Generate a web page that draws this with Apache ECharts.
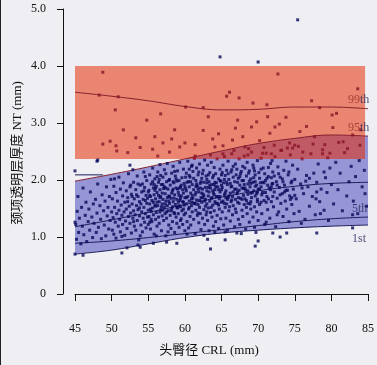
<!DOCTYPE html>
<html><head><meta charset="utf-8">
<script src="https://cdn.jsdelivr.net/npm/echarts@6/dist/echarts.min.js"></script>
<style>html,body{margin:0;padding:0;background:#ededf3}#c{width:377px;height:365px}</style>
</head><body><div id="c"></div>
<script>
// ---- data ----
const crl = [45, 50, 55, 60, 65, 70, 75, 80, 85];
const p99 = [3.54, 3.47, 3.39, 3.29, 3.23, 3.24, 3.28, 3.28, 3.25];
const p95 = [1.98, 2.10, 2.23, 2.37, 2.51, 2.64, 2.73, 2.79, 2.77];
const p50 = [1.18, 1.30, 1.43, 1.57, 1.70, 1.81, 1.89, 1.94, 1.96];
const p5  = [0.89, 0.93, 0.99, 1.06, 1.13, 1.20, 1.27, 1.32, 1.35];
const p1  = [0.70, 0.77, 0.88, 0.99, 1.07, 1.12, 1.16, 1.19, 1.21];
const flatSegX = [45, 48.8];
const flatSegY = [2.09, 2.09];
const rectX = [45, 84.6];
const rectY = [2.37, 4.0];
const xTicks = [45, 50, 55, 60, 65, 70, 75, 80, 85];
const yTicks = ['0', '1.0', '2.0', '3.0', '4.0', '5.0'];
const pctNames = ['99th', '95th', '5th', '1st'];
const xTitle = '头臀径 CRL (mm)';
const yTitle = '颈项透明层厚度 NT (mm)';

// scatter (x, y pairs, flat)
const cloud1 = [45.1,1.22,45.2,0.96,45.3,1.45,45.4,1.71,45.5,1.08,45.6,1.33,45.8,0.88,45.9,1.52,46.0,1.19,46.1,1.86,46.2,1.04,46.4,1.38,46.5,1.61,46.6,0.92,46.8,1.27,46.9,1.49,47.0,1.12,47.1,1.79,47.3,1.35,47.4,0.99,47.5,1.58,47.6,1.24,47.8,1.66,47.9,1.08,48.0,1.42,48.1,1.93,48.2,1.17,48.4,1.55,48.5,1.31,48.6,0.97,48.7,1.74,48.9,1.46,49.0,1.21,49.1,1.63,49.2,1.02,49.3,1.88,49.4,1.37,49.5,1.52,49.6,1.14,49.7,1.71,49.8,1.29,49.9,2.01,50.0,1.44,
50.1,1.12,50.1,1.67,50.2,1.34,50.3,1.89,50.3,1.05,50.4,1.52,50.5,1.26,50.6,1.78,50.6,0.98,50.7,1.41,50.8,1.63,50.9,1.19,51.0,2.05,51.0,1.47,51.1,1.31,51.2,1.84,51.2,1.09,51.3,1.56,51.4,1.38,51.5,1.72,51.5,1.22,51.6,1.95,51.7,1.44,51.8,1.03,51.8,1.61,51.9,1.28,52.0,1.81,52.0,1.49,52.1,1.15,52.2,1.69,52.3,1.36,52.3,2.11,52.4,1.54,52.5,1.24,52.5,1.88,52.6,1.42,52.7,1.07,52.7,1.75,52.8,1.58,52.9,1.33,53.0,1.96,53.0,1.46,53.1,1.19,53.1,1.67,53.2,1.39,53.3,1.83,53.3,1.12,53.4,1.55,53.5,2.07,53.5,1.29,53.6,1.71,53.6,1.48,53.7,0.95,53.8,1.62,53.8,1.37,53.9,1.91,54.0,1.21,54.0,1.58,54.1,1.44,54.1,1.79,54.2,1.09,54.3,1.66,54.3,1.33,54.4,2.14,54.4,1.52,54.5,1.26,54.5,1.87,54.6,1.41,54.7,1.73,54.7,1.16,54.8,1.59,54.8,1.99,54.9,1.35,54.9,1.68,55.0,1.47,55.0,1.22,50.4,2.02,51.4,1.01,52.9,2.18,53.9,1.02,54.6,2.06];
const cloud2 = [55.1,1.82,55.1,1.36,55.2,1.58,55.2,2.09,55.3,1.14,55.3,1.71,55.4,1.45,55.4,1.93,55.5,1.27,55.5,1.64,55.6,2.21,55.6,1.51,55.7,1.39,55.7,1.86,55.8,1.05,55.8,1.74,55.9,1.56,55.9,2.02,56.0,1.31,56.0,1.67,56.1,1.89,56.1,1.43,56.2,1.19,56.2,1.78,56.3,2.14,56.3,1.55,56.4,1.35,56.4,1.96,56.5,1.62,56.5,1.24,56.6,1.83,56.6,2.27,56.7,1.48,56.7,1.71,56.8,1.11,56.8,1.92,56.9,1.58,56.9,1.37,57.0,2.05,57.0,1.66,57.1,1.29,57.1,1.85,57.2,1.52,57.2,2.18,57.3,1.41,57.3,1.76,57.4,1.02,57.4,1.63,57.5,1.97,57.5,1.33,57.6,1.55,57.6,2.29,57.7,1.84,57.7,1.46,57.8,1.21,57.8,1.72,57.9,2.01,57.9,1.59,58.0,1.38,58.0,1.91,58.1,1.68,58.1,1.15,58.2,2.12,58.2,1.49,58.3,1.81,58.3,1.27,58.4,1.62,58.4,2.24,58.5,1.43,58.5,1.95,58.6,1.74,58.6,1.08,58.7,1.57,58.7,2.07,58.8,1.35,58.8,1.86,58.9,1.66,58.9,1.24,59.0,2.16,59.0,1.51,59.1,1.78,59.1,1.41,59.2,1.99,59.2,1.17,59.3,1.64,59.3,2.31,59.4,1.53,59.4,1.88,59.5,1.32,59.5,1.72,59.6,2.04,59.6,1.46,59.7,1.83,59.7,1.22,59.8,1.61,59.8,2.19,59.9,1.39,59.9,1.94,60.0,1.69,60.0,1.11,
55.2,1.26,55.7,1.61,56.1,1.02,56.7,2.08,57.2,1.88,57.7,1.09,58.3,1.53,58.9,1.98,59.4,1.29,59.8,1.77,56.4,1.73,57.5,1.44,58.6,1.41,59.1,1.61];
const cloud3 = [60.1,1.85,60.1,1.42,60.2,2.12,60.2,1.58,60.3,1.27,60.3,1.96,60.4,1.71,60.4,2.33,60.5,1.49,60.5,1.16,60.6,1.88,60.6,1.63,60.7,2.05,60.7,1.36,60.8,1.77,60.8,1.21,60.9,2.24,60.9,1.55,61.0,1.92,61.0,1.44,61.1,1.68,61.1,2.15,61.2,1.31,61.2,1.83,61.3,1.59,61.3,2.38,61.4,1.06,61.4,1.74,61.5,1.99,61.5,1.47,61.6,2.21,61.6,1.65,61.7,1.38,61.7,1.89,61.8,1.57,61.8,2.09,61.9,1.25,61.9,1.79,62.0,1.52,62.0,2.28,62.1,1.94,62.1,1.41,62.2,1.69,62.2,1.13,62.3,2.03,62.3,1.61,62.4,1.84,62.4,1.33,62.5,2.17,62.5,1.75,62.6,1.48,62.6,1.96,62.7,1.22,62.7,2.35,62.8,1.66,62.8,1.87,62.9,1.39,62.9,2.07,63.0,1.58,63.0,1.81,63.1,1.29,63.1,2.26,63.2,1.72,63.2,1.51,63.3,1.97,63.3,1.11,63.4,1.63,63.4,2.13,63.5,1.43,63.5,1.86,63.6,2.31,63.6,1.68,63.7,1.35,63.7,1.92,63.8,1.56,63.8,2.04,63.9,1.19,63.9,1.77,64.0,2.22,64.0,1.46,64.1,1.83,64.1,1.62,64.2,1.27,64.2,2.11,64.3,1.71,64.3,1.95,64.4,1.38,64.4,2.37,64.5,1.59,64.5,1.88,64.6,1.15,64.6,2.02,64.7,1.67,64.7,1.49,64.8,2.19,64.8,1.79,64.9,1.32,64.9,1.98,65.0,1.61,65.0,2.09,
60.3,1.05,61.4,2.42,62.6,1.03,63.5,2.44,64.1,1.08,61.0,1.73,62.0,1.64,63.0,2.01,64.0,1.74,60.6,2.19];
const cloud4 = [65.1,1.44,65.1,1.87,65.2,2.26,65.2,1.63,65.3,1.21,65.3,1.95,65.4,1.74,65.4,2.41,65.5,1.52,65.5,2.08,65.6,1.33,65.6,1.81,65.7,2.17,65.7,1.58,65.8,1.12,65.8,1.92,65.9,1.69,65.9,2.33,66.0,1.46,66.0,2.01,66.2,1.77,66.2,1.28,66.3,2.14,66.3,1.62,66.4,1.89,66.4,2.46,66.5,1.39,66.5,1.71,66.6,2.05,66.6,1.55,66.8,1.97,66.8,1.18,66.9,2.28,66.9,1.66,67.0,1.84,67.0,1.43,67.1,2.19,67.1,1.76,67.3,1.31,67.3,2.03,67.4,1.59,67.4,2.37,67.5,1.91,67.5,1.22,67.6,1.68,67.6,2.11,67.8,1.47,67.8,1.86,67.9,2.24,67.9,1.36,68.0,1.73,68.0,1.99,68.1,1.57,68.1,2.42,68.3,1.14,68.3,1.82,68.4,2.07,68.4,1.64,68.5,1.41,68.5,2.31,68.6,1.93,68.6,1.75,68.8,1.26,68.8,2.16,68.9,1.58,68.9,1.88,69.0,2.02,69.0,1.49,69.1,1.69,69.1,2.49,69.3,1.35,69.3,1.96,69.4,1.81,69.4,2.21,69.5,1.53,69.5,1.17,69.6,2.09,69.6,1.72,69.8,1.44,69.8,1.91,69.9,2.34,69.9,1.62,70.0,1.84,70.0,1.29,
65.5,1.09,66.7,2.52,67.7,1.06,68.7,2.55,69.7,1.08,66.1,1.53,67.2,1.96,68.2,1.67,69.2,1.78];
const cloud5 = [70.1,2.13,70.2,1.57,70.3,1.95,70.4,2.38,70.5,1.41,70.6,1.78,70.7,2.21,70.8,1.64,70.9,1.22,71.0,1.99,71.1,2.47,71.2,1.71,71.3,1.48,71.4,2.06,71.5,1.86,71.6,1.33,71.7,2.29,71.8,1.62,71.9,1.93,72.0,2.14,72.1,1.53,72.2,1.79,72.3,2.41,72.4,1.18,72.5,1.97,72.6,1.68,72.7,2.23,72.8,1.44,72.9,1.87,73.0,2.05,73.1,1.59,73.2,2.52,73.3,1.76,73.4,1.36,73.5,2.17,73.6,1.91,73.7,1.63,73.8,2.33,73.9,1.49,74.0,1.82,74.1,2.09,74.2,1.27,74.3,1.72,74.4,2.44,74.5,1.95,74.6,1.57,74.7,2.26,74.8,1.84,74.9,1.41,75.0,2.01,70.4,1.88,71.1,1.26,71.9,2.34,72.6,1.39,73.3,2.02,74.0,2.56,74.6,1.69,70.8,2.57,72.2,2.61,
75.2,1.67,75.4,2.19,75.6,1.45,75.8,1.93,76.0,2.37,76.2,1.76,76.4,1.31,76.6,2.08,76.8,1.88,77.0,1.54,77.2,2.46,77.4,1.71,77.6,2.12,77.8,1.39,78.0,1.96,78.2,2.28,78.4,1.62,78.6,1.84,78.8,2.53,79.0,1.47,79.2,2.04,79.4,1.78,79.6,1.29,79.8,2.21,80.0,1.92,75.5,2.59,76.5,1.98,77.5,2.63,78.5,1.41,79.5,2.39,75.9,1.24,77.9,1.67,
80.3,1.58,80.6,2.31,80.9,1.83,81.2,2.12,81.5,1.46,81.8,2.48,82.1,1.72,82.4,1.97,82.7,2.24,83.0,1.63,83.3,2.06,83.6,1.41,83.9,2.61,84.2,1.88,84.5,2.17,84.8,1.54,81.0,2.66,82.9,1.39,83.8,2.34,84.6,1.76];
const cloudCore = [55.3,1.49,55.9,1.82,56.2,1.61,56.6,1.44,57.0,1.92,57.3,1.58,57.8,1.99,58.1,1.46,58.5,1.68,58.8,2.02,59.2,1.73,59.5,1.91,59.9,1.56,60.2,1.81,60.5,1.97,60.9,1.67,61.2,2.03,61.5,1.78,61.8,1.42,62.1,1.86,62.4,2.11,62.7,1.63,63.0,1.95,63.3,1.79,63.6,1.52,63.9,2.08,64.2,1.88,64.5,1.71,64.8,1.99,65.1,2.13,65.4,1.59,65.7,1.96,66.0,1.72,66.3,1.88,66.6,2.24,66.9,1.49,67.2,1.79,67.5,2.06,67.8,1.66,68.1,1.92,68.4,1.52,68.7,2.12,69.0,1.77,69.3,2.26,69.6,1.89,69.9,1.66,70.2,2.03,70.5,1.74,70.8,1.95,71.1,1.61,71.4,2.22,71.7,1.83,72.0,1.71,
55.6,1.97,56.0,1.54,56.5,2.01,56.9,1.77,57.4,1.86,57.9,1.71,58.4,1.84,58.9,1.52,59.3,1.86,59.7,1.62,60.1,2.05,60.6,1.52,61.0,1.61,61.5,1.89,61.9,2.14,62.3,1.77,62.8,1.54,63.2,2.09,63.7,1.69,64.1,1.96,64.6,1.56,65.0,1.83,65.5,1.77,65.9,2.11,66.4,1.65,66.8,1.84,67.3,1.69,67.7,2.15,68.2,1.86,68.6,1.59,69.0,1.94,69.5,2.16,69.9,1.79,70.4,1.61,70.9,2.11,71.3,1.91,71.8,2.04];
const cloudCore2 = [52.2,1.62,52.6,1.91,53.0,1.27,53.4,1.74,53.8,1.51,54.2,1.93,54.6,1.64,55.0,1.79,55.4,1.31,55.8,1.92,56.2,2.06,56.6,1.69,57.0,1.47,57.4,2.11,57.8,1.63,58.2,1.77,58.6,2.15,59.0,1.84,59.4,1.68,59.8,1.49,60.2,1.69,60.6,2.08,61.0,2.26,61.4,1.58,61.8,1.84,62.2,1.97,62.6,1.72,63.0,1.44,63.4,1.91,63.8,1.81,64.2,1.59,64.6,1.83,65.0,1.91,65.4,2.01,65.8,1.66,66.2,1.94,66.6,1.79,67.0,2.09,67.4,1.82,67.8,1.99,68.2,2.21,68.6,1.81,69.0,1.62,69.4,2.04,69.8,1.76,70.2,1.84,70.6,1.96,71.0,1.78,71.4,1.67,71.8,1.88,72.2,2.07,72.6,1.91,73.0,1.74,73.4,1.97,73.8,1.82,74.2,2.14,74.6,1.98,75.0,1.73,
52.8,1.71,53.6,1.93,54.4,1.81,55.2,1.73,56.0,1.86,56.8,1.53,57.6,1.69,58.4,1.97,59.2,1.55,60.0,1.89,60.8,1.97,61.6,1.93,62.4,1.69,63.2,1.87,64.0,1.92,64.8,1.71,65.6,1.69,66.4,2.18,67.2,1.61,68.0,1.85,68.8,1.98,69.6,1.97,70.4,2.19,71.2,2.03,72.0,1.94,72.8,2.11,73.6,1.79,74.4,1.66,76.0,1.86,77.0,2.03,78.0,1.79,79.0,2.14];
const highPts = [48.8,3.89,48.3,3.49,50.9,3.46,50.5,3.23,54.8,3.05,56.7,3.16,58.6,2.88,60.1,3.28,53.3,2.74,55.9,2.76,48.8,2.63,49.8,2.68,50.6,2.60,50.7,2.51,52.2,2.48,55.6,2.54,57.0,2.65,58.2,2.72,59.3,2.58,60.0,2.65,56.3,2.42,
72.7,3.86,83.6,3.60,67.4,3.44,69.3,3.35,66.1,3.54,65.7,3.47,77.3,3.39,71.2,3.32,62.5,3.27,63.2,3.11,67.2,3.05,71.3,3.11,73.8,3.10,80.7,3.17,80.1,3.14,78.4,3.27,69.1,2.93,72.9,2.98,72.3,2.93,75.7,2.85,80.2,2.92,62.5,2.87,61.4,2.62,64.1,2.58,65.2,2.60,67.9,2.76,71.6,2.82,74.3,2.65,77.7,2.76,81.6,2.67,82.9,2.79,70.6,2.47,71.8,2.46,76.1,2.49,78.8,2.46,68.6,2.44,74.7,2.56,79.8,2.47,65.2,2.46,66.5,2.70,
63.8,2.72,66.9,2.91,68.2,2.58,70.2,2.69,73.1,2.52,75.0,2.61,76.6,2.94,79.1,2.62,82.2,2.55,84.0,2.88,64.6,2.81,69.8,3.02,57.9,2.49,53.9,2.57,51.6,2.88];
const outPts = [75.4,4.81,64.8,4.16,70.0,4.07,
63.1,0.96,63.5,0.79,65.5,0.95,69.6,0.84,70.0,0.93,72.0,1.07,73.0,1.00,73.9,1.07,78.0,1.07,67.1,1.07,82.9,1.16,
45.0,0.70,46.1,0.68,51.4,0.72,52.1,0.81,53.6,0.86,55.7,0.89,57.5,0.91,58.9,0.89,53.9,0.82,
45.0,1.26,45.0,2.16,48.1,2.35,52.5,2.26,48.0,2.33];

// ---- build ----
function pairs(a){const r=[];for(let i=0;i<a.length;i+=2)r.push([a[i],a[i+1]]);return r;}
function curve(ys){return crl.map((x,i)=>[x,ys[i]]);}
const allPts = pairs(cloud1).concat(pairs(cloud2),pairs(cloud3),pairs(cloud4),pairs(cloud5),pairs(cloudCore),pairs(cloudCore2),pairs(highPts),pairs(outPts));

const BG = '#eeeef3';
const NAVY = '#08085a', RED = '#8a1426', DARKRED = '#84202c', LINENAVY = '#1a1a5a';
const serif = "'Liberation Serif','DejaVu Serif',serif";
const SM = 0.4;

const chart = echarts.init(document.getElementById('c'), null, {renderer:'canvas'});
const lastIdx = crl.length - 1;
chart.setOption({
  backgroundColor: BG,
  animation: false,
  grid: {left: 75, right: 9, top: 9, bottom: 71, containLabel: false},
  xAxis: {
    type: 'value', min: xTicks[0], max: xTicks[xTicks.length-1], interval: 5, offset: 13,
    splitLine: {show: false},
    axisLine: {lineStyle: {color: '#111', width: 1}},
    axisTick: {length: 7, lineStyle: {color: '#111'}},
    axisLabel: {margin: 16, color: '#111', fontFamily: serif, fontSize: 12}
  },
  yAxis: {
    type: 'value', min: 0, max: 5, interval: 1, offset: 12,
    splitLine: {show: false},
    axisLine: {show: true, lineStyle: {color: '#111', width: 1}},
    axisTick: {show: true, length: 6, lineStyle: {color: '#111'}},
    axisLabel: {margin: 17, color: '#111', fontFamily: serif, fontSize: 12,
      formatter: v => yTicks[Math.round(v)]}
  },
  graphic: [
    {type: 'rect', left: 0, top: 0, shape: {width: 1, height: 365}, style: {fill: '#222'}},
    {type: 'text', x: 209, y: 351, style: {text: xTitle, fill: '#111', font: "13px 'Liberation Serif','Noto Sans CJK SC',serif", textAlign: 'center', textVerticalAlign: 'middle'}},
    {type: 'text', x: 18, y: 153, rotation: Math.PI/2, style: {text: yTitle, fill: '#111', font: "13px 'Liberation Serif','Noto Sans CJK SC',serif", textAlign: 'center', textVerticalAlign: 'middle'}}
  ],
  series: [
    {type: 'line', name: 'bandTop', data: curve(p95), smooth: SM, symbol: 'none', showSymbol: false, z: 1,
      lineStyle: {width: 0}, areaStyle: {color: '#9696d6', opacity: 1, origin: 'start'}, silent: true},
    {type: 'line', name: 'bandBottom', data: curve(p1), smooth: SM, symbol: 'none', showSymbol: false, z: 1,
      lineStyle: {width: 0}, areaStyle: {color: BG, opacity: 1, origin: 'start'}, silent: true},
    {type: 'custom', name: 'zone', z: 2, data: [[rectX[0], rectY[0]]], silent: true,
      renderItem: (params, api) => {
        const a = api.coord([rectX[0], rectY[1]]);
        const b = api.coord([rectX[1], rectY[0]]);
        return {type: 'rect', shape: {x: a[0], y: a[1], width: b[0]-a[0], height: b[1]-a[1]},
          style: {fill: 'rgba(230,40,0,0.53)'}};
      }},
    {type: 'line', name: '99th', data: curve(p99), smooth: SM, symbol: 'none', z: 3, lineStyle: {color: DARKRED, width: 1}},
    {type: 'line', name: '95th', data: curve(p95), smooth: SM, symbol: 'none', z: 3, lineStyle: {color: DARKRED, width: 1}},
    {type: 'line', name: '50th', data: curve(p50), smooth: SM, symbol: 'none', z: 3, lineStyle: {color: LINENAVY, width: 1}},
    {type: 'line', name: '5th', data: curve(p5), smooth: SM, symbol: 'none', z: 3, lineStyle: {color: LINENAVY, width: 1}},
    {type: 'line', name: '1st', data: curve(p1), smooth: SM, symbol: 'none', z: 3, lineStyle: {color: LINENAVY, width: 1}},
    {type: 'line', name: 'seg', data: flatSegX.map((x,i)=>[x, flatSegY[i]]), symbol: 'none', z: 3, lineStyle: {color: LINENAVY, width: 1}},
    {type: 'scatter', name: 'pts', data: allPts, symbol: 'rect', symbolSize: 3, z: 4,
      itemStyle: {color: p => (p.value[1] >= rectY[0] && p.value[1] <= rectY[1]) ? RED : NAVY}},
    {type: 'scatter', name: 'labels', z: 5, symbolSize: 0, silent: true,
      data: [
        {value: [crl[lastIdx], p99[lastIdx]], label: {position: [-20, -15]}, name: pctNames[0]},
        {value: [crl[lastIdx], p95[lastIdx]], label: {position: [-20, -14]}, name: pctNames[1]},
        {value: [crl[lastIdx], p5[lastIdx]], label: {position: [-16, -14]}, name: pctNames[2]},
        {value: [crl[lastIdx], p1[lastIdx]], label: {position: [-16, 8]}, name: pctNames[3]}
      ],
      label: {show: true, fontFamily: serif, fontSize: 12,
        formatter: p => {
          const m = p.name.match(/^(\d+)(\D+)$/);
          const cls = p.dataIndex < 2 ? 'r' : 'b';
          return '{' + cls + '|' + m[1] + '}{t|' + m[2] + '}';
        },
        rich: {
          r: {color: '#9a3222', fontFamily: serif, fontSize: 12},
          b: {color: '#22226a', fontFamily: serif, fontSize: 12},
          t: {color: '#2a2a5a', fontFamily: serif, fontSize: 12}
        }}
    }
  ]
});
</script></body></html>
